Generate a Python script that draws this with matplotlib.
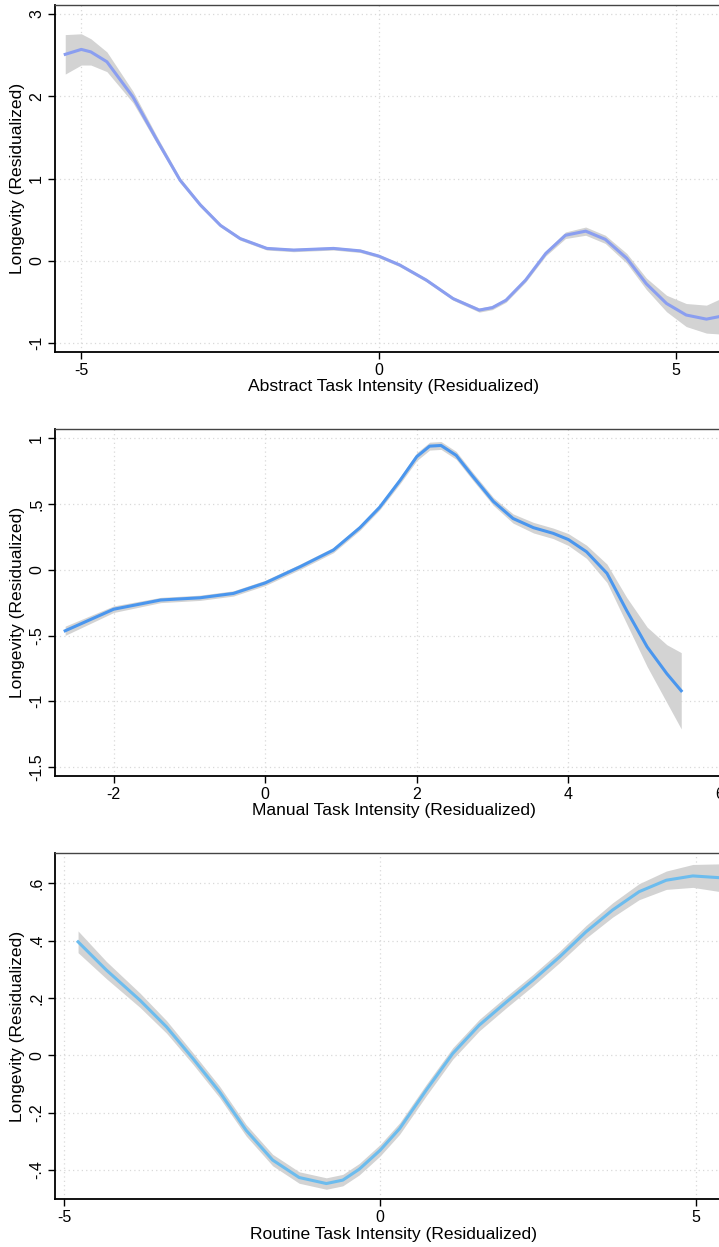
import matplotlib
matplotlib.use("Agg")
import matplotlib.pyplot as plt
import numpy as np

plt.rcParams['font.family'] = ['Liberation Sans', 'DejaVu Sans']

# ---- Panel 1: Abstract ----
abs_x = [-5.27, -5.0, -4.84, -4.57, -4.13, -3.73, -3.34, -3.0, -2.66, -2.33, -1.88, -1.43,
         -0.76, -0.31, 0.0, 0.35, 0.80, 1.25, 1.69, 1.91, 2.14, 2.47, 2.81, 3.14, 3.48,
         3.81, 4.17, 4.50, 4.84, 5.17, 5.51, 5.72, 5.94]
abs_y = [2.51, 2.57, 2.54, 2.42, 1.99, 1.47, 0.98, 0.68, 0.43, 0.27, 0.15, 0.13,
         0.15, 0.12, 0.057, -0.05, -0.235, -0.46, -0.60, -0.57, -0.48, -0.235, 0.09, 0.31, 0.36,
         0.26, 0.03, -0.28, -0.52, -0.66, -0.71, -0.68, -0.62]
abs_se = [0.24, 0.19, 0.16, 0.12, 0.07, 0.045, 0.03, 0.025, 0.02, 0.02, 0.02, 0.02,
          0.02, 0.02, 0.02, 0.02, 0.02, 0.02, 0.025, 0.025, 0.025, 0.025, 0.03, 0.04, 0.05,
          0.05, 0.06, 0.07, 0.10, 0.14, 0.17, 0.21, 0.25]

# ---- Panel 2: Manual ----
man_x = [-2.64, -2.0, -1.38, -0.86, -0.42, 0.0, 0.46, 0.90, 1.25, 1.51, 1.78, 2.0, 2.17,
         2.32, 2.52, 2.74, 3.01, 3.27, 3.54, 3.80, 4.0, 4.24, 4.51, 4.77, 5.04, 5.30, 5.49]
man_y = [-0.464, -0.30, -0.23, -0.213, -0.18, -0.10, 0.023, 0.15, 0.32, 0.475, 0.68, 0.86, 0.94,
         0.945, 0.87, 0.71, 0.52, 0.39, 0.32, 0.277, 0.23, 0.137, -0.027, -0.31, -0.586, -0.79, -0.92]
man_se = [0.035, 0.025, 0.02, 0.02, 0.02, 0.02, 0.02, 0.02, 0.02, 0.02, 0.025, 0.03, 0.03,
          0.03, 0.03, 0.03, 0.03, 0.035, 0.04, 0.04, 0.045, 0.05, 0.07, 0.10, 0.15, 0.22, 0.29]

# ---- Panel 3: Routine ----
rou_x = [-4.78, -4.33, -3.80, -3.38, -2.96, -2.54, -2.12, -1.70, -1.28, -0.85, -0.59, -0.33,
         0.0, 0.31, 0.73, 1.15, 1.57, 2.0, 2.42, 2.84, 3.26, 3.68, 4.10, 4.53, 4.95, 5.36, 5.57]
rou_y = [0.396, 0.297, 0.192, 0.099, -0.012, -0.128, -0.262, -0.366, -0.427, -0.448, -0.436, -0.398,
         -0.332, -0.256, -0.122, 0.006, 0.105, 0.186, 0.262, 0.343, 0.431, 0.507, 0.571, 0.611, 0.626, 0.62, 0.615]
rou_se = [0.038, 0.03, 0.025, 0.022, 0.02, 0.02, 0.02, 0.02, 0.02, 0.02, 0.02, 0.02,
          0.02, 0.02, 0.02, 0.02, 0.02, 0.02, 0.02, 0.02, 0.022, 0.025, 0.028, 0.032, 0.04, 0.048, 0.055]

panels = [
    dict(x=abs_x, y=abs_y, se=abs_se, color='#8a9ef0',
         xlabel='Abstract Task Intensity (Residualized)',
         xlim=(-5.437, 5.94), ylim=(-1.106, 3.11),
         xticks=[-5, 0, 5], xtl=['-5', '0', '5'],
         yticks=[-1, 0, 1, 2, 3], ytl=['-1', '0', '1', '2', '3'],
         top=5, bottom=351.7),
    dict(x=man_x, y=man_y, se=man_se, color='#4a96ee',
         xlabel='Manual Task Intensity (Residualized)',
         xlim=(-2.77, 6.16), ylim=(-1.568, 1.068),
         xticks=[-2, 0, 2, 4, 6], xtl=['-2', '0', '2', '4', '6'],
         yticks=[-1.5, -1, -0.5, 0, 0.5, 1], ytl=['-1.5', '-1', '-.5', '0', '.5', '1'],
         top=429.3, bottom=776),
    dict(x=rou_x, y=rou_y, se=rou_se, color='#6cbcee',
         xlabel='Routine Task Intensity (Residualized)',
         xlim=(-5.14, 5.57), ylim=(-0.503, 0.705),
         xticks=[-5, 0, 5], xtl=['-5', '0', '5'],
         yticks=[-0.4, -0.2, 0, 0.2, 0.4, 0.6], ytl=['-.4', '-.2', '0', '.2', '.4', '.6'],
         top=853.3, bottom=1199.3),
]

W, H = 719, 1247
fig = plt.figure(figsize=(W / 100, H / 100), dpi=100)
left_px, right_px = 55.3, 732

for p in panels:
    ax = fig.add_axes([left_px / W, 1 - p['bottom'] / H,
                       (right_px - left_px) / W, (p['bottom'] - p['top']) / H])
    x = np.array(p['x']); y = np.array(p['y']); se = np.array(p['se'])
    ax.fill_between(x, y - se, y + se, color='#d3d3d3', lw=0, zorder=2)
    ax.plot(x, y, color=p['color'], lw=2.2, zorder=3, solid_joinstyle='round')
    ax.set_xlim(*p['xlim']); ax.set_ylim(*p['ylim'])
    ax.set_xticks(p['xticks']); ax.set_xticklabels(p['xtl'])
    ax.set_yticks(p['yticks'])
    ax.set_yticklabels(p['ytl'], rotation=90, va='center')
    ax.grid(True, color='#d9d9d9', linestyle=(0, (1, 2.5)), lw=0.9, zorder=1)
    ax.tick_params(axis='both', direction='out', length=5, width=1, labelsize=11.5, colors='black', pad=3)
    ax.spines['right'].set_visible(False)
    for s in ['left', 'bottom']:
        ax.spines[s].set_linewidth(1.3)
        ax.spines[s].set_color('black')
    ax.spines['top'].set_linewidth(1.0)
    ax.spines['top'].set_color('#444444')
    ax.set_xlabel(p['xlabel'], fontsize=12.6, labelpad=1)
    ax.set_ylabel('Longevity (Residualized)', fontsize=12.6, labelpad=3)

fig.savefig('out.png', dpi=100)
